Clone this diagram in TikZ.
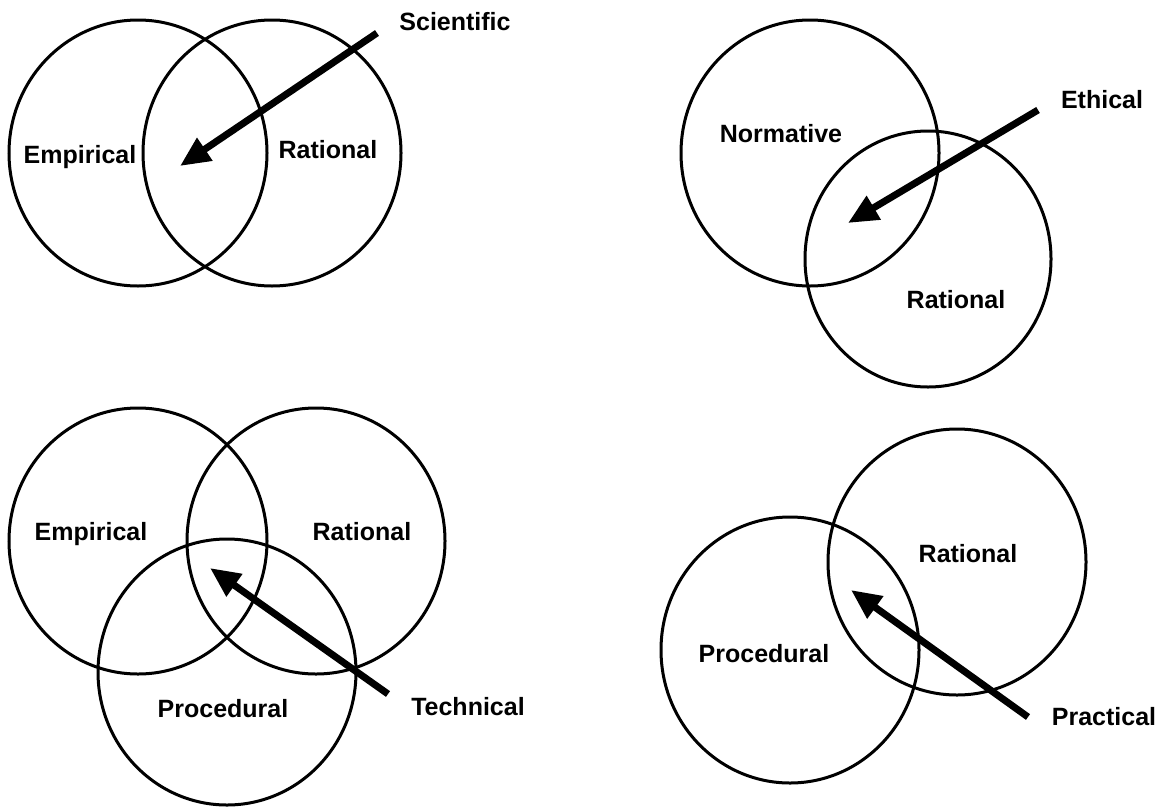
\documentclass[tikz,border=0pt]{standalone}
\usepackage{fontspec}
\setmainfont{Liberation Sans}
\usetikzlibrary{arrows.meta,shapes.geometric}

\begin{document}
\begin{tikzpicture}[
  x=1pt, y=-1pt,
  font=\bfseries\fontsize{25}{30}\selectfont,
  ring/.style={draw, line width=3pt, ellipse, inner sep=0pt, minimum width=258pt, minimum height=266pt},
  smallring/.style={ring, minimum width=246pt, minimum height=256pt},
  lbl/.style={anchor=base, inner sep=0pt},
  arr/.style={-{Triangle[length=30pt,width=26pt]}, line width=7pt}
]
\useasboundingbox (0,0) rectangle (1161,806);

\node[ring] (emp1) at (138,153) {};
\node[ring] (rat1) at (272,153) {};
\node[lbl] (emp1l) at (80,163) {Empirical};
\node[lbl] (rat1l) at (328,158) {Rational};
\node[lbl] (sci) at (455,30) {Scientific};
\coordinate (sci-from) at (377,33);
\coordinate (sci-to) at (180,166);
\draw[arr] (sci-from) -- (sci-to);

\node[ring] (norm) at (810,153) {};
\node[smallring] (rat2) at (928,259) {};
\node[lbl] (norml) at (781,142) {Normative};
\node[lbl] (rat2l) at (956,308) {Rational};
\node[lbl] (eth) at (1102,108) {Ethical};
\coordinate (eth-from) at (1038,110);
\coordinate (eth-to) at (848,223);
\draw[arr] (eth-from) -- (eth-to);

\node[ring] (emp3) at (138,541) {};
\node[ring] (rat3) at (316,541) {};
\node[ring] (proc3) at (227,672) {};
\node[lbl] (emp3l) at (91,540) {Empirical};
\node[lbl] (rat3l) at (362,540) {Rational};
\node[lbl] (proc3l) at (223,717) {Procedural};
\node[lbl] (tech) at (468,715) {Technical};
\coordinate (tech-from) at (388,694);
\coordinate (tech-to) at (210,568);
\draw[arr] (tech-from) -- (tech-to);

\node[ring] (rat4) at (957,562) {};
\node[ring] (proc4) at (790,650) {};
\node[lbl] (rat4l) at (968,562) {Rational};
\node[lbl] (proc4l) at (764,662) {Procedural};
\node[lbl] (prac) at (1104,725) {Practical};
\coordinate (prac-from) at (1028,717);
\coordinate (prac-to) at (851,590);
\draw[arr] (prac-from) -- (prac-to);
\end{tikzpicture}
\end{document}
